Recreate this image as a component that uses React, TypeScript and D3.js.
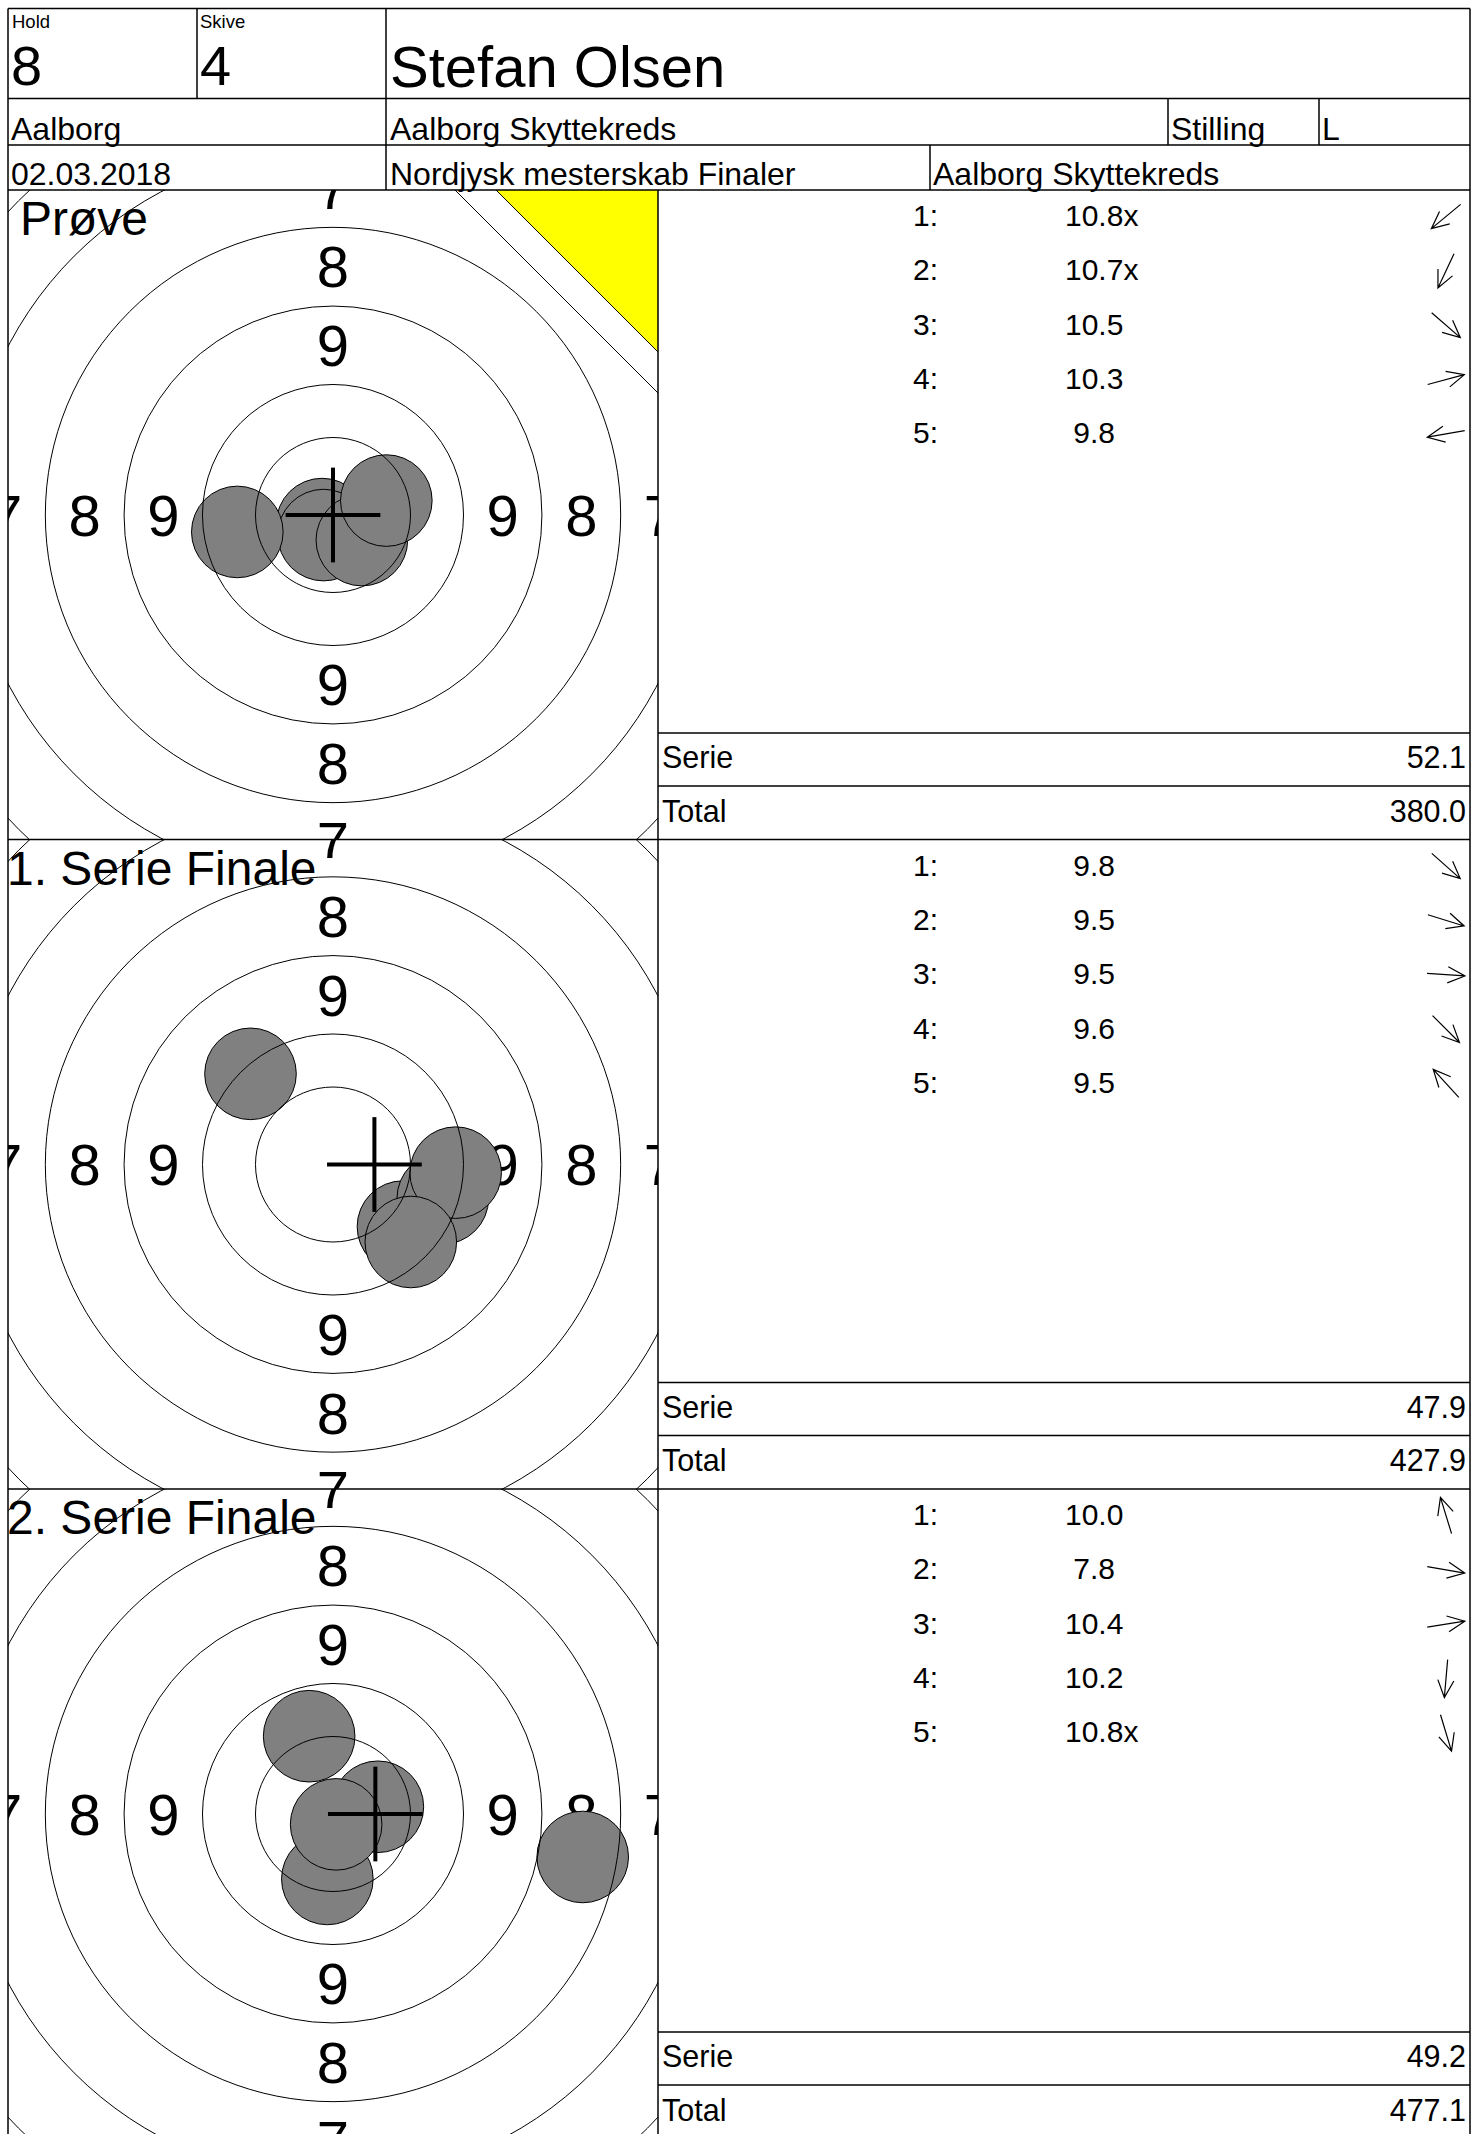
import React from 'react';
import * as d3 from 'd3';

// ---------------- data ----------------
const teamNo = '8';
const targetNo = '4';
const teamCaption = 'Hold';
const targetCaption = 'Skive';
const shooter = 'Stefan Olsen';
const clubName = 'Aalborg';
const districtName = 'Aalborg Skyttekreds';
const positionCaption = 'Stilling';
const positionCode = 'L';
const competitionDate = '02.03.2018';
const competitionName = 'Nordjysk mesterskab Finaler';
const hostName = 'Aalborg Skyttekreds';

const seriesNames = ['Prøve', '1. Serie Finale', '2. Serie Finale'];
const seriesIsSighter = [true, false, false];
const shotScores = [
  [10.8, 10.7, 10.5, 10.3, 9.8],
  [9.8, 9.5, 9.5, 9.6, 9.5],
  [10.0, 7.8, 10.4, 10.2, 10.8],
];
const shotInnerTen = [
  [true, true, false, false, false],
  [false, false, false, false, false],
  [false, false, false, false, true],
];
// shot centre offsets from target centre in mm (x right, y down)
const shotX = [
  [-0.35, -0.30, 0.92, 1.70, -3.05],
  [2.23, 3.50, 3.91, 2.48, -2.63],
  [-0.76, 7.96, 1.43, -0.18, 0.10],
];
const shotY = [
  [0.29, 0.64, 0.80, -0.46, 0.54],
  [1.98, 1.08, 0.26, 2.47, -2.89],
  [-2.48, 1.37, -0.23, 2.07, 0.33],
];
const crossX = [0, 1.32, 1.35];
const crossY = [0, 0, 0];
const serieSums = [52.1, 47.9, 49.2];
const runningTotals = [380.0, 427.9, 477.1];
const serieCaption = 'Serie';
const totalCaption = 'Total';

const ringRadiiMm = [2.47, 4.16, 6.66, 9.17, 11.67, 14.17, 16.67];
const ringLabelValues = [9, 8, 7]; // in the bands between ring 1-2, 2-3, 3-4
const shotRadiusMm = 1.46;
const crossHalfMm = 1.51;
const targetHalfMm = 10.36;

// ---------------- layout ----------------
const W = 1478;
const H = 2134;
const L = 8;
const R = 1470;
const T = 8.5;
const ROW1 = 98.5;
const ROW2 = 145;
const COL_HOLD = 197;
const COL_NAME = 386;
const COL_STILLING = 1168;
const COL_L = 1319;
const COL_HOST = 930;
const PANEL_TOP = 190;
const PANEL_H = 649.5;
const TARGET_W = 650;
const SPLIT = L + TARGET_W;
const FONT = '"Liberation Sans", Arial, Helvetica, sans-serif';

export default function App() {
  const fmtScore = d3.format('4.1f');
  const fmtSum = d3.format('.1f');
  const rScale = d3.scaleLinear().domain([0, targetHalfMm]).range([0, TARGET_W / 2]);
  const LW = 1.5;

  const arrowPath = (dx: number, dy: number, cx: number, cy: number) => {
    const ang = Math.atan2(dy, dx);
    const len = 38;
    const head = 19;
    const ha = (25 * Math.PI) / 180;
    const ux = Math.cos(ang);
    const uy = Math.sin(ang);
    const x1 = cx - (ux * len) / 2;
    const y1 = cy - (uy * len) / 2;
    const x2 = cx + (ux * len) / 2;
    const y2 = cy + (uy * len) / 2;
    const p = d3.path();
    p.moveTo(x1, y1);
    p.lineTo(x2, y2);
    p.moveTo(x2 - head * Math.cos(ang - ha), y2 - head * Math.sin(ang - ha));
    p.lineTo(x2, y2);
    p.lineTo(x2 - head * Math.cos(ang + ha), y2 - head * Math.sin(ang + ha));
    return p.toString();
  };

  const panels = seriesNames.map((name, i) => {
    const top = PANEL_TOP + i * PANEL_H;
    const xs = d3.scaleLinear().domain([-targetHalfMm, targetHalfMm]).range([L, L + TARGET_W]);
    const ys = d3.scaleLinear().domain([-targetHalfMm, targetHalfMm]).range([top, top + TARGET_W]);
    const cx = xs(0);
    const cy = ys(0);
    const labels: { v: number; x: number; y: number }[] = [];
    ringLabelValues.forEach((v, k) => {
      const d = (ringRadiiMm[k + 1] + ringRadiiMm[k + 2]) / 2;
      labels.push({ v, x: xs(0), y: ys(-d) });
      labels.push({ v, x: xs(0), y: ys(d) });
      labels.push({ v, x: xs(-d), y: ys(0) });
      labels.push({ v, x: xs(d), y: ys(0) });
    });
    const labelFs = 58;
    const listFs = 30;
    const sumFs = 30.5;
    return (
      <g key={i}>
        <defs>
          <clipPath id={`clip${i}`}>
            <rect x={L} y={top} width={TARGET_W} height={PANEL_H} />
          </clipPath>
        </defs>
        <g clipPath={`url(#clip${i})`}>
          {labels.map((lb, k) => (
            <text key={k} x={lb.x} y={lb.y + labelFs * 0.358} fontSize={labelFs} textAnchor="middle" fill="#000">
              {lb.v}
            </text>
          ))}
          {shotX[i].map((sx, j) => (
            <circle
              key={j}
              cx={xs(sx)}
              cy={ys(shotY[i][j])}
              r={rScale(shotRadiusMm)}
              fill="#808080"
              stroke="#000"
              strokeWidth={1}
            />
          ))}
          {ringRadiiMm.map((rr, k) => (
            <circle key={k} cx={cx} cy={cy} r={rScale(rr)} fill="none" stroke="#000" strokeWidth={1} />
          ))}
          <g stroke="#000" strokeWidth={4}>
            <line
              x1={xs(crossX[i] - crossHalfMm)}
              x2={xs(crossX[i] + crossHalfMm)}
              y1={ys(crossY[i])}
              y2={ys(crossY[i])}
            />
            <line
              x1={xs(crossX[i])}
              x2={xs(crossX[i])}
              y1={ys(crossY[i] - crossHalfMm)}
              y2={ys(crossY[i] + crossHalfMm)}
            />
          </g>
          {seriesIsSighter[i] && (
            <g>
              <polygon
                points={`${L + 447},${top} ${L + TARGET_W},${top} ${L + TARGET_W},${top + 203}`}
                fill="#fff"
              />
              <line x1={L + 447} y1={top} x2={L + TARGET_W} y2={top + 203} stroke="#000" strokeWidth={1} />
              <polygon
                points={`${L + 488},${top} ${L + TARGET_W},${top} ${L + TARGET_W},${top + 162}`}
                fill="#ffff00"
              />
              <line x1={L + 488} y1={top} x2={L + TARGET_W} y2={top + 162} stroke="#000" strokeWidth={1} />
            </g>
          )}
          <text x={L - 1 + (seriesIsSighter[i] ? 13 : 0)} y={top + 45.3} fontSize={48} fill="#000">
            {name}
          </text>
        </g>
        {/* right side list */}
        {shotScores[i].map((s, j) => {
          const base = top + 36 + j * 54.35;
          return (
            <g key={j}>
              <text x={913} y={base} fontSize={listFs} fill="#000">{`${j + 1}:`}</text>
              <text x={1065} y={base} fontSize={listFs} fill="#000" style={{ whiteSpace: 'pre' }}>
                {fmtScore(s) + (shotInnerTen[i][j] ? 'x' : '')}
              </text>
              <path d={arrowPath(shotX[i][j], shotY[i][j], 1446, base - 9.5)} fill="none" stroke="#000" strokeWidth={1.2} />
            </g>
          );
        })}
        <text x={662} y={top + 578.3} fontSize={sumFs} fill="#000">{serieCaption}</text>
        <text x={1466} y={top + 578.3} fontSize={sumFs} textAnchor="end" fill="#000">{fmtSum(serieSums[i])}</text>
        <text x={662} y={top + 631.7} fontSize={sumFs} fill="#000">{totalCaption}</text>
        <text x={1466} y={top + 631.7} fontSize={sumFs} textAnchor="end" fill="#000">{fmtSum(runningTotals[i])}</text>
        <g stroke="#000" strokeWidth={LW}>
          <line x1={L} x2={R} y1={top} y2={top} />
          <line x1={SPLIT} x2={SPLIT} y1={top} y2={top + PANEL_H} />
          <line x1={SPLIT} x2={R} y1={top + 543} y2={top + 543} />
          <line x1={SPLIT} x2={R} y1={top + 596} y2={top + 596} />
        </g>
      </g>
    );
  });

  return (
    <div style={{ position: 'absolute', left: 0, top: 0 }}>
      <svg width={W} height={H} style={{ display: 'block', fontFamily: FONT }}>
        <rect x={0} y={0} width={W} height={H} fill="#fff" />
        {panels}
        {/* header grid */}
        <g stroke="#000" strokeWidth={LW}>
          <line x1={L} x2={R} y1={T} y2={T} />
          <line x1={L} x2={R} y1={ROW1} y2={ROW1} />
          <line x1={L} x2={R} y1={ROW2} y2={ROW2} />
          <line x1={L} x2={L} y1={T} y2={H} />
          <line x1={R} x2={R} y1={T} y2={H} />
          <line x1={COL_HOLD} x2={COL_HOLD} y1={T} y2={ROW1} />
          <line x1={COL_NAME} x2={COL_NAME} y1={T} y2={PANEL_TOP} />
          <line x1={COL_STILLING} x2={COL_STILLING} y1={ROW1} y2={ROW2} />
          <line x1={COL_L} x2={COL_L} y1={ROW1} y2={ROW2} />
          <line x1={COL_HOST} x2={COL_HOST} y1={ROW2} y2={PANEL_TOP} />
        </g>
        <g fill="#000">
          <text x={12} y={28} fontSize={18.5}>{teamCaption}</text>
          <text x={11} y={85} fontSize={56}>{teamNo}</text>
          <text x={200} y={28} fontSize={18.5}>{targetCaption}</text>
          <text x={200} y={85} fontSize={56}>{targetNo}</text>
          <text x={390} y={87} fontSize={58}>{shooter}</text>
          <text x={11} y={139.5} fontSize={32}>{clubName}</text>
          <text x={390} y={139.5} fontSize={32}>{districtName}</text>
          <text x={1171} y={139.5} fontSize={32}>{positionCaption}</text>
          <text x={1322} y={139.5} fontSize={32}>{positionCode}</text>
          <text x={11} y={184.5} fontSize={32}>{competitionDate}</text>
          <text x={390} y={184.5} fontSize={32}>{competitionName}</text>
          <text x={933} y={184.5} fontSize={32}>{hostName}</text>
        </g>
      </svg>
    </div>
  );
}
